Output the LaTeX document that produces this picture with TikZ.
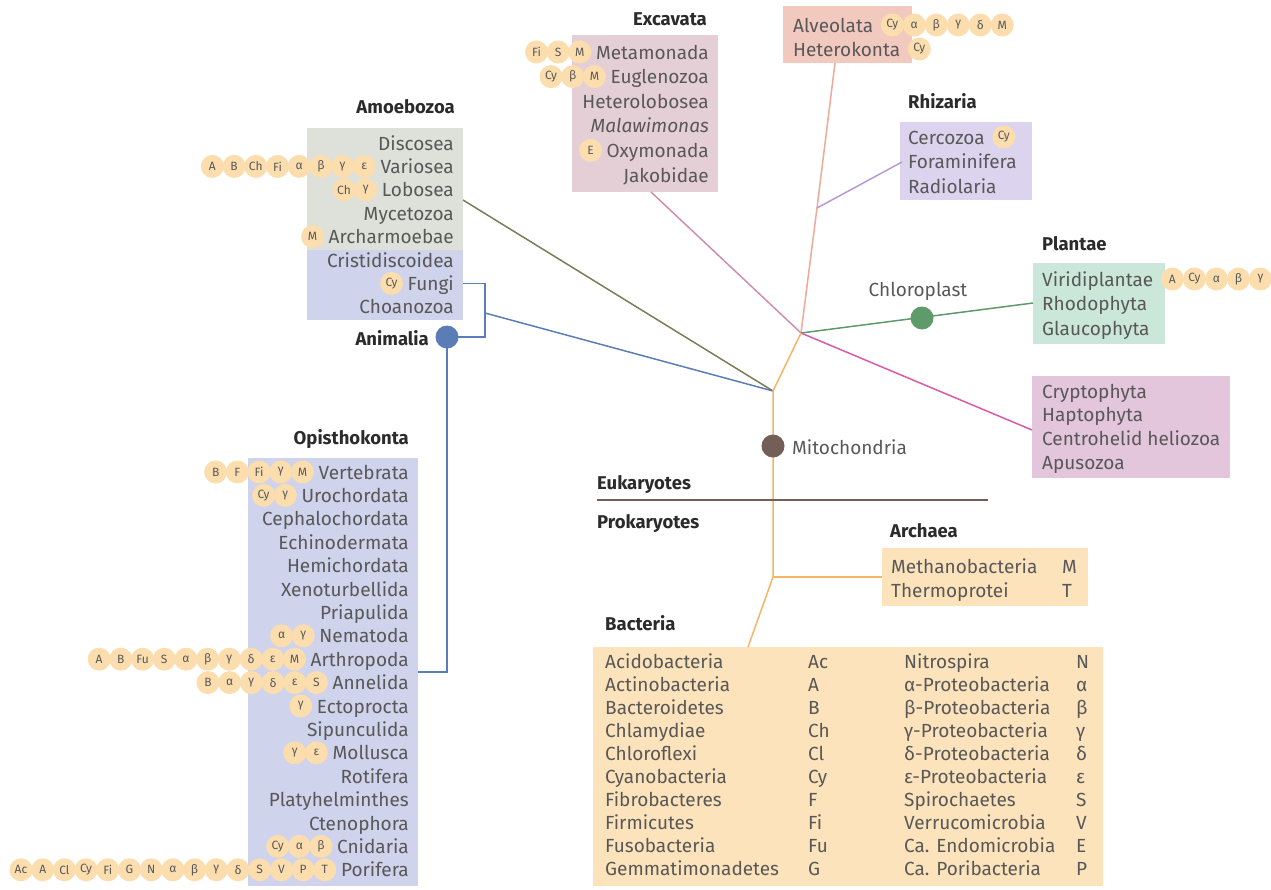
\documentclass[tikz,border=0pt]{standalone}
\usepackage{fontspec}
\setmainfont{Fira Sans}
\usetikzlibrary{calc,positioning}

\definecolor{txtgray}{HTML}{585858}
\definecolor{headcol}{HTML}{2B2B2B}
\definecolor{badgecol}{HTML}{FBDDAE}
\definecolor{badgetxt}{HTML}{595959}
\definecolor{amoefill}{HTML}{DDE1DA}
\definecolor{animfill}{HTML}{CFD3EB}
\definecolor{excafill}{HTML}{E5CFD6}
\definecolor{alvefill}{HTML}{F2C9BF}
\definecolor{rhizfill}{HTML}{DCD4EE}
\definecolor{plantfill}{HTML}{CBE7D9}
\definecolor{cryptfill}{HTML}{E3C5DC}
\definecolor{bactfill}{HTML}{FDE3BB}
\definecolor{olive}{HTML}{7B7D58}
\definecolor{animblue}{HTML}{5A7DB5}
\definecolor{mauve}{HTML}{D08EAC}
\definecolor{salmon}{HTML}{F0A898}
\definecolor{lilac}{HTML}{B69AD8}
\definecolor{leaf}{HTML}{5E9A6A}
\definecolor{magent}{HTML}{D85AA8}
\definecolor{amber}{HTML}{F5B565}
\definecolor{brownish}{HTML}{735F58}

\tikzset{
  row/.style={inner sep=0pt, text height=14pt, text depth=0pt,
    font=\fontsize{19}{22}\selectfont, text=txtgray},
  rowl/.style={row, anchor=east},
  rowr/.style={row, anchor=west},
  head/.style={row, font=\fontsize{18.5}{22}\selectfont\bfseries, text=headcol},
  badge/.style={circle, fill=badgecol, minimum size=23pt, inner sep=0pt,
    font=\fontsize{12}{12}\selectfont, text=badgetxt},
  taxbox/.style={anchor=north west, inner sep=0pt, outer sep=0pt},
  dot/.style={circle, inner sep=0pt, minimum size=23pt},
  branch/.style={line width=1.5pt},
}

% row of badges left of / right of a taxon
\newcommand\badgesleft[2]{%
  \foreach \b [count=\k] in {#2}{\xdef\nbadge{\k}}%
  \foreach \b [count=\k] in {#2}{%
    \node[badge] (#1b\k) at ($(#1.west)+({-16-(\nbadge-\k)*21.7},0)$) {\b};}%
}
\newcommand\badgesright[2]{%
  \foreach \b [count=\k] in {#2}{%
    \node[badge] (#1b\k) at ($(#1.east)+({19+(\k-1)*22},0)$) {\b};}%
}

\begin{document}
\begin{tikzpicture}[x=1pt,y=-1pt]
  \useasboundingbox (0,0) rectangle (1271,889);

  % coloured boxes
  \node[taxbox, fill=amoefill,  minimum width=156pt, minimum height=122pt] (amobox) at (307,128) {};
  \node[taxbox, fill=animfill,  minimum width=156pt, minimum height=70pt]  (funbox) at (307,250) {};
  \node[taxbox, fill=animfill,  minimum width=170pt, minimum height=428pt] (opibox) at (248,458) {};
  \node[taxbox, fill=excafill,  minimum width=146pt, minimum height=157pt] (excbox) at (572,35) {};
  \node[taxbox, fill=alvefill,  minimum width=129pt, minimum height=57pt]  (alvbox) at (783,6) {};
  \node[taxbox, fill=rhizfill,  minimum width=132pt, minimum height=78pt]  (rhibox) at (900,122) {};
  \node[taxbox, fill=plantfill, minimum width=132pt, minimum height=81pt]  (plabox) at (1033,263) {};
  \node[taxbox, fill=cryptfill, minimum width=198pt, minimum height=102pt] (crybox) at (1032,376) {};
  \node[taxbox, fill=bactfill,  minimum width=206pt, minimum height=58pt]  (arcbox) at (882,548) {};
  \node[taxbox, fill=bactfill,  minimum width=510pt, minimum height=239pt] (bacbox) at (593,647) {};

  % branch points
  \coordinate (n0) at (773,391);
  \coordinate (n1) at (801,333);
  \coordinate (n2) at (817,208);
  \coordinate (n3) at (773,577);
  \coordinate (fk) at (485,337);
  \coordinate (fb) at (485,313);

  % tree
  \draw[branch, olive]    (463,200) -- (n0);
  \draw[branch, animblue] (fb) -- (n0);
  \draw[branch, mauve]    (651,192) -- (n1);
  \draw[branch, salmon]   (835,63) -- (n2) -- (n1);
  \draw[branch, lilac]    (902,162) -- (n2);
  \draw[branch, leaf]     (n1) -- (plabox.west |- 0,303);
  \draw[branch, magent]   (n1) -- (crybox.west |- 0,430);
  \draw[branch, amber]    (n1) -- (n0) -- (n3) -- (748,647);
  \draw[branch, amber]    (n3) -- (arcbox.west |- n3);
  \draw[line width=2.5pt, brownish] (597,500) -- (988,500);

  \node[dot, fill=leaf] (chloro) at (922,318) {};
  \node[row, text=txtgray] (chlorolab) at (918,289) {Chloroplast};
  \node[dot, fill=brownish] (mito) at (773,446) {};
  \node[rowr] (mitolab) at (792,447) {Mitochondria};

  % headers
  \node[head, anchor=east] (amohead) at (455,106) {Amoebozoa};
  \node[head, anchor=east] (opihead) at (409,437) {Opisthokonta};
  \node[head, anchor=east] (exchead) at (707,18)  {Excavata};
  \node[head, anchor=west] (rhihead) at (908,101) {Rhizaria};
  \node[head, anchor=west] (plahead) at (1042,243) {Plantae};
  \node[head, anchor=west] (archead) at (890,530) {Archaea};
  \node[head, anchor=west] (bachead) at (605,623) {Bacteria};
  \node[head, anchor=west] (eukhead) at (597,482) {Eukaryotes};
  \node[head, anchor=west] (prohead) at (597,521) {Prokaryotes};

  % taxa
  \foreach \t [count=\i] in {Discosea, Variosea, Lobosea, Mycetozoa, Archarmoebae,
      Cristidiscoidea, Fungi, Choanozoa}
    \node[rowl] (amo\i) at (454,{143+(\i-1)*23.4}) {\t};
  \foreach \t [count=\i] in {Vertebrata, Urochordata, Cephalochordata, Echinodermata,
      Hemichordata, Xenoturbellida, Priapulida, Nematoda, Arthropoda, Annelida,
      Ectoprocta, Sipunculida, Mollusca, Rotifera, Platyhelminthes, Ctenophora,
      Cnidaria, Porifera}
    \node[rowl] (opi\i) at (409,{472+(\i-1)*23.4}) {\t};
  \foreach \t [count=\i] in {Metamonada, Euglenozoa, Heterolobosea, {\itshape Malawimonas},
      Oxymonada, Jakobidae}
    \node[rowl] (exc\i) at (709,{52+(\i-1)*24.6}) {\t};
  \foreach \t [count=\i] in {Alveolata, Heterokonta}
    \node[rowr] (alv\i) at (793,{25+(\i-1)*24}) {\t};
  \foreach \t [count=\i] in {Cercozoa, Foraminifera, Radiolaria}
    \node[rowr] (rhi\i) at (908,{137+(\i-1)*24.5}) {\t};
  \foreach \t [count=\i] in {Viridiplantae, Rhodophyta, Glaucophyta}
    \node[rowr] (pla\i) at (1042,{279+(\i-1)*24.5}) {\t};
  \foreach \t [count=\i] in {Cryptophyta, Haptophyta, Centrohelid heliozoa, Apusozoa}
    \node[rowr] (cry\i) at (1042,{391+(\i-1)*23.7}) {\t};
  \foreach \t/\a [count=\i] in {Methanobacteria/M, Thermoprotei/T}{
    \node[rowr] (arc\i) at (891,{566+(\i-1)*24}) {\t};
    \node[rowr] (arcab\i) at (1062,{566+(\i-1)*24}) {\a};
  }
  \foreach \na/\aa/\nb/\ab [count=\i] in {Acidobacteria/Ac/Nitrospira/N,
      Actinobacteria/A/α-Proteobacteria/α, Bacteroidetes/B/β-Proteobacteria/β,
      Chlamydiae/Ch/γ-Proteobacteria/γ, Chloroflexi/Cl/δ-Proteobacteria/δ,
      Cyanobacteria/Cy/ε-Proteobacteria/ε, Fibrobacteres/F/Spirochaetes/S,
      Firmicutes/Fi/Verrucomicrobia/V, Fusobacteria/Fu/Ca. Endomicrobia/E,
      Gemmatimonadetes/G/Ca. Poribacteria/P}{
    \node[rowr] (baca\i)  at (605,{661+(\i-1)*23.1}) {\na};
    \node[rowr] (bacab\i) at (808,{661+(\i-1)*23.1}) {\aa};
    \node[rowr] (bacb\i)  at (904,{661+(\i-1)*23.1}) {\nb};
    \node[rowr] (bacbb\i) at (1076,{661+(\i-1)*23.1}) {\ab};
  }

  % Animalia
  \draw[branch, animblue] (amo7 -| funbox.east) -| (fk) -- (447,337);
  \draw[branch, animblue] (447,337) |- (opibox.east);
  \node[dot, fill=animblue] (anim) at (447,337) {};
  \node[head, anchor=east] (animlab) at (429,338) {Animalia};

  % bacterial partners
  \badgesleft{amo2}{A,B,Ch,Fi,α,β,γ,ε}
  \badgesleft{amo3}{Ch,γ}
  \badgesleft{amo5}{M}
  \badgesleft{amo7}{Cy}
  \badgesleft{opi1}{B,F,Fi,γ,M}
  \badgesleft{opi2}{Cy,γ}
  \badgesleft{opi8}{α,γ}
  \badgesleft{opi9}{A,B,Fu,S,α,β,γ,δ,ε,M}
  \badgesleft{opi10}{B,α,γ,δ,ε,S}
  \badgesleft{opi11}{γ}
  \badgesleft{opi13}{γ,ε}
  \badgesleft{opi17}{Cy,α,β}
  \badgesleft{opi18}{Ac,A,Cl,Cy,Fi,G,N,α,β,γ,δ,S,V,P,T}
  \badgesleft{exc1}{Fi,S,M}
  \badgesleft{exc2}{Cy,β,M}
  \badgesleft{exc5}{E}
  \badgesright{alv1}{Cy,α,β,γ,δ,M}
  \badgesright{alv2}{Cy}
  \badgesright{rhi1}{Cy}
  \badgesright{pla1}{A,Cy,α,β,γ}
\end{tikzpicture}
\end{document}
